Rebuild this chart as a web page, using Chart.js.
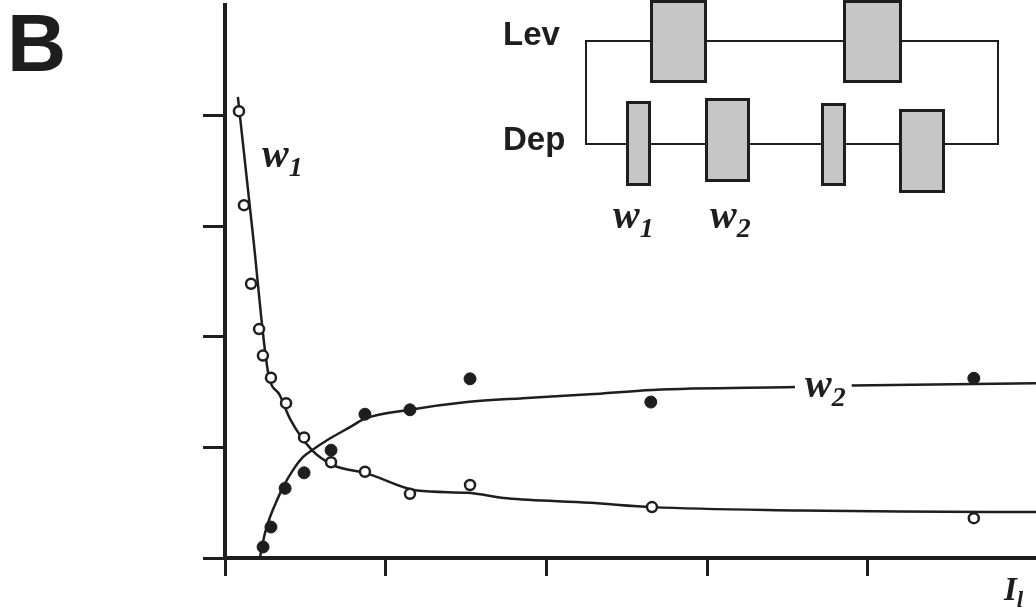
<!DOCTYPE html>
<html>
<head>
<meta charset="utf-8">
<script src="https://cdn.jsdelivr.net/npm/chart.js@4.4.1/dist/chart.umd.min.js"></script>
<style>
  html, body { margin: 0; padding: 0; background: #fff; }
  #wrap { position: relative; width: 1036px; height: 612px; overflow: hidden; }
  #myGraph { position: absolute; left: 0; top: 0; }
  .lbl { position: absolute; line-height: 1; white-space: nowrap; color: #1e1e1e; }
  .sans { font-family: "Liberation Sans", Arial, sans-serif; font-weight: bold; }
  .serif { font-family: "Liberation Serif", "Times New Roman", serif; font-weight: bold; font-style: italic; }
  .sub { position: relative; top: 9px; font-size: 70%; }
  .box { position: absolute; box-sizing: border-box; border: 3px solid #1e1e1e; background: #c6c6c6; }
  .frame { position: absolute; box-sizing: border-box; border: 2.5px solid #1e1e1e; }
</style>
</head>
<body>
<div id="wrap">
  <canvas id="myGraph" width="1036" height="612"></canvas>
</div>
<script>
(() => {

//----- Data -----//

    // open circles, w1
    var w1X = [0.087, 0.118, 0.162, 0.212, 0.236, 0.286, 0.38, 0.492, 0.66, 0.871, 1.151, 1.525, 2.657, 4.66]
    var w1Y = [4.04, 3.19, 2.48, 2.07, 1.83, 1.63, 1.40, 1.09, 0.866, 0.78, 0.58, 0.66, 0.46, 0.36]

    // filled circles, w2
    var w2X = [0.237, 0.286, 0.374, 0.492, 0.66, 0.871, 1.151, 1.525, 2.65, 4.66]
    var w2Y = [0.10, 0.28, 0.63, 0.77, 0.975, 1.30, 1.34, 1.62, 1.41, 1.625]

    // fitted curves as drawn
    var fit1X = [0.08, 0.174, 0.268, 0.342, 0.404, 0.541, 0.672, 0.778, 0.871, 1.195, 1.506, 1.755, 2.27, 2.66, 3.58, 4.2, 5.05]
    var fit1Y = [4.17, 2.92, 1.68, 1.47, 1.26, 0.975, 0.84, 0.795, 0.77, 0.61, 0.59, 0.54, 0.50, 0.46, 0.43, 0.42, 0.415]

    // null = break in the line where the w2 label sits
    var fit2X = [0.218, 0.249, 0.28, 0.324, 0.361, 0.423, 0.485, 0.541, 0.635, 0.778, 0.871, 1.151, 1.506, 1.854, 2.27, 2.66, 3.547, 3.72, 3.90, 5.05]
    var fit2Y = [0.01, 0.226, 0.37, 0.524, 0.641, 0.795, 0.912, 0.975, 1.065, 1.183, 1.26, 1.34, 1.41, 1.445, 1.48, 1.52, 1.545, null, 1.56, 1.58]

    var xTicksShown = [0, 1, 2, 3, 4]
    var yTicksShown = [0, 1, 2, 3, 4]

    // inset sketch: [left, top, right, bottom]
    var insetFrame = [585, 40, 999, 145]
    var insetBoxes = [
        [650, 0, 707, 83], [843, 0, 902, 83],
        [626, 101, 651, 186], [705, 98, 750, 182], [821, 103, 846, 186], [899, 109, 945, 193]
    ]

    var ink = '#1e1e1e'

//----- Functions -----//

    function zipXY (xs, ys) {
        return xs.map((x, i) => ({ x: x, y: ys[i] }))
    }

    function addLabel (html, cls, left, top, size) {
        var el = document.createElement('span')
        el.className = 'lbl ' + cls
        el.style.left = left + 'px'
        el.style.top = top + 'px'
        el.style.fontSize = size + 'px'
        el.innerHTML = html
        document.getElementById('wrap').appendChild(el)
    }

    function addRect (r, cls) {
        var el = document.createElement('div')
        el.className = cls
        el.style.left = r[0] + 'px'
        el.style.top = r[1] + 'px'
        el.style.width = (r[2] - r[0]) + 'px'
        el.style.height = (r[3] - r[1]) + 'px'
        document.getElementById('wrap').appendChild(el)
    }

    function tickColor (shown) {
        return ctx => (ctx.tick && shown.includes(ctx.tick.value)) ? ink : 'rgba(0,0,0,0)'
    }

//----- construct chart -----//

    const data = {
      datasets: [
        {
          label: 'w1 data', data: zipXY(w1X, w1Y), order: 0,
          pointRadius: 5, pointBorderWidth: 2.5, pointBackgroundColor: '#fff', pointBorderColor: ink, showLine: false
        },
        {
          label: 'w2 data', data: zipXY(w2X, w2Y), order: 1,
          pointRadius: 6, pointBorderWidth: 1, pointBackgroundColor: ink, pointBorderColor: ink, showLine: false
        },
        {
          label: 'w1 fit', data: zipXY(fit1X, fit1Y), order: 2, showLine: true, pointRadius: 0,
          borderColor: ink, borderWidth: 2.5, cubicInterpolationMode: 'monotone', spanGaps: false
        },
        {
          label: 'w2 fit', data: zipXY(fit2X, fit2Y), order: 3, showLine: true, pointRadius: 0,
          borderColor: ink, borderWidth: 2.5, cubicInterpolationMode: 'monotone', spanGaps: false
        }
      ]
    }

    const myChart = new Chart(
      document.getElementById('myGraph'), {
        type: 'scatter',
        data: data,
        options: {
          responsive: false,
          animation: false,
          devicePixelRatio: 1,
          layout: { autoPadding: false, padding: { left: 203, top: 5, right: 0, bottom: 36 } },
          plugins: { legend: { display: false }, tooltip: { enabled: false } },
          scales: {
            x: {
              type: 'linear', min: 0, max: 5.047,
              ticks: { display: false, stepSize: 1 },
              grid: { drawOnChartArea: false, drawTicks: true, tickLength: 18, lineWidth: 3, color: tickColor(xTicksShown) },
              border: { display: true, width: 4, color: ink }
            },
            y: {
              type: 'linear', min: 0, max: 5,
              ticks: { display: false, stepSize: 1 },
              grid: { drawOnChartArea: false, drawTicks: true, tickLength: 22, lineWidth: 3, color: tickColor(yTicksShown) },
              border: { display: true, width: 4, color: ink }
            }
          }
        }
      }
    )

//----- labels and inset -----//

    addLabel('B', 'sans', 7, 2, 82)

    addRect(insetFrame, 'frame')
    insetBoxes.forEach(b => addRect(b, 'box'))
    addLabel('Lev', 'sans', 503, 17, 33)
    addLabel('Dep', 'sans', 503, 122, 33)
    addLabel('w<span class="sub">1</span>', 'serif', 613, 195, 40)
    addLabel('w<span class="sub">2</span>', 'serif', 710, 195, 40)

    addLabel('w<span class="sub">1</span>', 'serif', 262, 134, 40)
    addLabel('w<span class="sub">2</span>', 'serif', 805, 364, 40)
    addLabel('I<span class="sub" style="top:7px">l</span>', 'serif', 1004, 573, 33)

})();
</script>
</body>
</html>
